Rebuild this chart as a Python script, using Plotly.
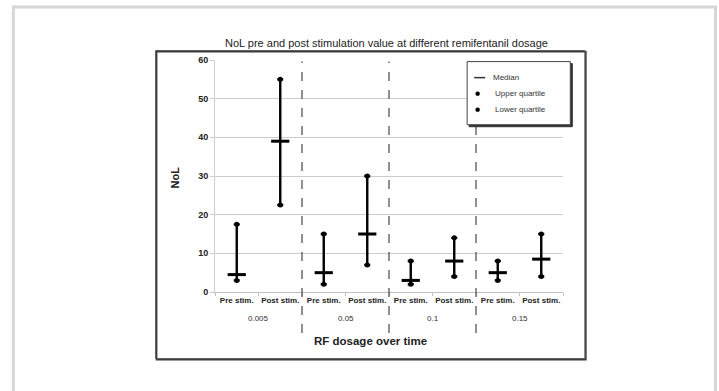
import plotly.graph_objects as go

# ---- data ----
dosages = ["0.005", "0.05", "0.1", "0.15"]
phases = ["Pre stim.", "Post stim."]
median = [4.5, 39, 5, 15, 3, 8, 5, 8.5]
upper_q = [17.5, 55, 15, 30, 8, 14, 8, 15]
lower_q = [3, 22.5, 2, 7, 2, 4, 3, 4]
y_ticks = [0, 10, 20, 30, 40, 50, 60]

xpos = list(range(len(median)))
tick_text = ["<b>" + phases[i % 2] + "</b>" for i in xpos]

W, H = 719, 391
L, R, T, B = 215.3, 562.7, 60.4, 292.0


def px(x):
    return (x - L) / (R - L)


def py(y):
    return (B - y) / (B - T)


fig = go.Figure()

# whiskers (lower -> upper) with median marker
fig.add_trace(go.Scatter(
    x=xpos, y=median, mode="markers",
    marker=dict(symbol="line-ew", size=13, color="black",
                line=dict(width=3, color="black")),
    error_y=dict(type="data", symmetric=False,
                 array=[u - m for u, m in zip(upper_q, median)],
                 arrayminus=[m - l for m, l in zip(median, lower_q)],
                 color="black", thickness=2.4, width=3),
    showlegend=False, hoverinfo="skip"))
fig.add_trace(go.Scatter(
    x=xpos + xpos, y=upper_q + lower_q, mode="markers",
    marker=dict(symbol="circle", size=5, color="black"),
    showlegend=False, hoverinfo="skip"))

shapes = []
# outer light frame
shapes.append(dict(type="rect", xref="paper", yref="paper",
                   x0=px(14), x1=px(715), y0=py(400), y1=py(7.5),
                   line=dict(color="#d6d6d6", width=3), layer="below"))
# chart box with shadow
shapes.append(dict(type="rect", xref="paper", yref="paper",
                   x0=px(157), x1=px(585.5), y0=py(359.5), y1=py(52),
                   line=dict(color="#3a3a3a", width=1.6), layer="below"))
shapes.append(dict(type="rect", xref="paper", yref="paper",
                   x0=px(156), x1=px(584.5), y0=py(358.5), y1=py(51),
                   line=dict(color="#555555", width=1), layer="below"))
# dashed group separators
for k in range(1, len(dosages)):
    xv = 2 * k - 0.5
    shapes.append(dict(type="line", xref="x", yref="paper",
                       x0=xv, x1=xv, y0=py(333), y1=py(62),
                       line=dict(color="#555555", width=1.3, dash="dash")))

# legend box
lx0, lx1, ly0, ly1 = 467, 570, 62, 125
shapes.append(dict(type="rect", xref="paper", yref="paper",
                   x0=px(lx0 + 2), x1=px(lx1 + 2), y0=py(ly1 + 2), y1=py(ly0 + 2),
                   line=dict(color="#333333", width=1), fillcolor="#333333"))
shapes.append(dict(type="rect", xref="paper", yref="paper",
                   x0=px(lx0), x1=px(lx1), y0=py(ly1), y1=py(ly0),
                   line=dict(color="#444444", width=1), fillcolor="white"))
shapes.append(dict(type="line", xref="paper", yref="paper",
                   x0=px(474), x1=px(485), y0=py(78), y1=py(78),
                   line=dict(color="#333333", width=1.5)))
for yy in (94, 110):
    shapes.append(dict(type="circle", xref="paper", yref="paper",
                       x0=px(475.5), x1=px(479.5), y0=py(yy + 2), y1=py(yy - 2),
                       line=dict(color="black", width=0.5), fillcolor="black"))

font_main = "Liberation Sans, Arial, sans-serif"
annotations = []
annotations.append(dict(text="NoL pre and post stimulation value at different remifentanil dosage",
                        xref="paper", yref="paper", x=px(387), y=py(43),
                        showarrow=False, xanchor="center", yanchor="middle",
                        font=dict(family=font_main, size=11, color="#222222")))
annotations.append(dict(text="<b>NoL</b>", xref="paper", yref="paper",
                        x=px(175), y=py(178), textangle=-90, showarrow=False,
                        xanchor="center", yanchor="middle",
                        font=dict(family=font_main, size=11, color="#222222")))
annotations.append(dict(text="<b>RF dosage over time</b>", xref="paper", yref="paper",
                        x=px(371), y=py(341), showarrow=False,
                        xanchor="center", yanchor="middle",
                        font=dict(family=font_main, size=11.5, color="#222222")))
for k, d in enumerate(dosages):
    annotations.append(dict(text=d, xref="x", yref="paper", x=2 * k + 0.5, y=py(318),
                            showarrow=False, xanchor="center", yanchor="middle",
                            font=dict(family=font_main, size=8, color="#333333")))
for yy, t in ((78, "Median"), (94, "Upper quartile"), (110, "Lower quartile")):
    annotations.append(dict(text=t, xref="paper", yref="paper",
                            x=px(491 if t == "Median" else 493), y=py(yy),
                            showarrow=False, xanchor="left", yanchor="middle",
                            font=dict(family=font_main, size=8, color="#333333")))

fig.update_layout(
    width=W, height=H,
    margin=dict(l=L, r=W - R, t=T, b=H - B, pad=0),
    paper_bgcolor="white", plot_bgcolor="white",
    shapes=shapes, annotations=annotations,
    xaxis=dict(range=[-0.5, 7.5], tickvals=xpos, ticktext=tick_text,
               ticks="", showgrid=False, zeroline=False,
               showline=True, linecolor="#bfbfbf", linewidth=1,
               tickfont=dict(family=font_main, size=8, color="#222222"),
               minor=dict(tickvals=[i - 0.5 for i in range(len(median) + 1)],
                          ticks="outside", ticklen=3, tickcolor="#bfbfbf", showgrid=False)),
    yaxis=dict(range=[0, 60], tickvals=y_ticks, ticktext=[f"<b>{v}</b>" for v in y_ticks],
               showgrid=True, gridcolor="#cccccc", gridwidth=1, zeroline=False,
               showline=True, linecolor="#d0d0d0", linewidth=1,
               ticks="outside", ticklen=4, tickcolor="#cccccc",
               tickfont=dict(family=font_main, size=9, color="#222222")),
)

fig.write_html("out.html", config={"displayModeBar": False},
               post_script="document.body.style.margin='0px';document.body.style.overflow='hidden';")
